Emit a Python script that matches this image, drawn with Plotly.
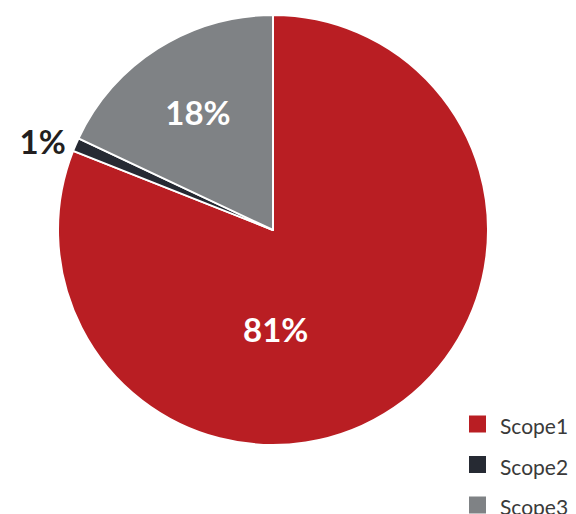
import plotly.graph_objects as go

labels = ["Scope1", "Scope2", "Scope3"]
values = [81, 1, 18]
text_labels = ["81%", "1%", "18%"]
colors = ["#B91E23", "#262A33", "#7F8285"]
positions = ["none", "outside", "inside"]

W, H = 576, 522
OFF = 8  # page body margin offset compensation

def px_x(x):
    return (x - OFF) / W

def px_y(y):
    return 1 - (y - OFF) / H

fig = go.Figure()
fig.add_trace(go.Pie(
    labels=labels,
    values=values,
    text=text_labels,
    textinfo="text",
    textposition=positions,
    insidetextorientation="horizontal",
    sort=False,
    direction="clockwise",
    rotation=0,
    marker=dict(colors=colors, line=dict(color="#FFFFFF", width=2)),
    outsidetextfont=dict(family="Lato", size=33, color="#231F20", weight="bold"),
    insidetextfont=dict(family="Lato", size=33, color="#FFFFFF", weight="bold"),
    domain=dict(x=[px_x(58), px_x(488)], y=[px_y(445), px_y(15)]),
    showlegend=False,
    hoverinfo="label+percent",
))

# label of the large slice, placed below the centre as in the reference
fig.add_annotation(xref="paper", yref="paper", x=px_x(275), y=px_y(329),
                   text=text_labels[0], showarrow=False,
                   xanchor="center", yanchor="middle",
                   font=dict(family="Lato", size=33, color="#FFFFFF", weight="bold"))

# legend drawn as shapes + text
legend_y = [424, 464.5, 505]
for lab, col, yc in zip(labels, colors, legend_y):
    fig.add_shape(type="rect", xref="paper", yref="paper",
                  x0=px_x(469), x1=px_x(486),
                  y0=px_y(yc + 8.5), y1=px_y(yc - 8.5),
                  fillcolor=col, line=dict(width=0))
    fig.add_annotation(xref="paper", yref="paper", x=px_x(498), y=px_y(yc + 1.5),
                       text=lab, showarrow=False, xanchor="left", yanchor="middle",
                       font=dict(family="Lato", size=21, color="#3A3A3A"))

fig.update_layout(
    width=W, height=H,
    margin=dict(l=0, r=0, t=0, b=0),
    paper_bgcolor="#FFFFFF",
    plot_bgcolor="#FFFFFF",
)

fig.write_html("out.html")
